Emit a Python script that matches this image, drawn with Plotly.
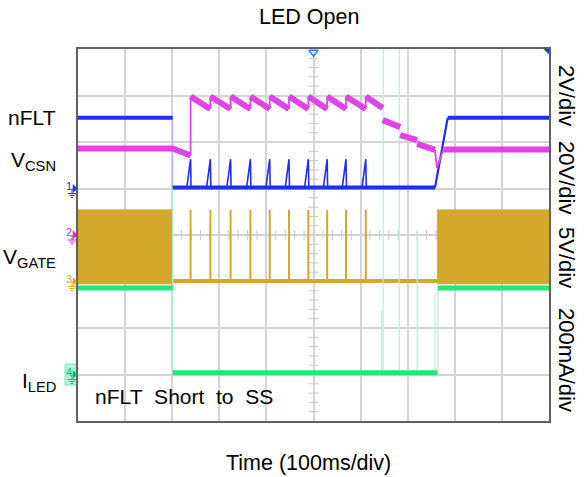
import plotly.graph_objects as go

# ---------------- data (x: ms, 100 ms/div ; y: screen divisions 0..8) ----------------
spike_t = [239, 281, 324, 366, 407, 448, 489, 529, 569, 611]

# nFLT (blue), flat portions
nflt_flat_t = [0, 201, None, 201, 758, None, 785, 1000]
nflt_flat_v = [6.52, 6.52, None, 5.02, 5.02, None, 6.52, 6.52]
# nFLT spikes (ramp start, peak, drop)
nflt_spk_rise = [231, 273, 316, 358, 399, 440, 481, 521, 561, 603]
nflt_spk_peak = [5.63, 5.63, 5.63, 5.63, 5.63, 5.63, 5.63, 5.63, 5.63, 5.63]
nflt_low = 5.02
# nFLT recovery ramp
nflt_ramp_t = [758, 785]
nflt_ramp_v = [5.02, 6.52]

# VCSN (magenta): thick segments
vcsn_t = [0, 201, 239, None,
          239, 281, None, 281, 324, None, 324, 366, None, 366, 407, None, 407, 448, None,
          448, 489, None, 489, 529, None, 529, 569, None, 569, 611, None, 611, 647, None,
          647, 684, None, 684, 720, None, 720, 758, None, 776, 1000]
vcsn_v = [5.86, 5.86, 5.71, None,
          6.98, 6.71, None, 6.98, 6.71, None, 6.98, 6.71, None, 6.98, 6.71, None, 6.98, 6.71, None,
          6.98, 6.71, None, 6.98, 6.71, None, 6.98, 6.71, None, 6.98, 6.71, None, 6.98, 6.73, None,
          6.47, 6.32, None, 6.15, 6.04, None, 5.96, 5.83, None, 5.84, 5.84]
# VCSN thin edges (jumps and dip)
vcsn_edge_t = [239, 239, None, 281, 281, None, 324, 324, None, 366, 366, None, 407, 407, None,
               448, 448, None, 489, 489, None, 529, 529, None, 569, 569, None, 611, 611, None,
               758, 762, 776]
vcsn_edge_v = [5.71, 6.98, None, 6.71, 6.98, None, 6.71, 6.98, None, 6.71, 6.98, None, 6.71, 6.98, None,
               6.71, 6.98, None, 6.71, 6.98, None, 6.71, 6.98, None, 6.71, 6.98, None, 6.71, 6.98, None,
               5.83, 5.44, 5.84]

# VGATE (gold)
vgate_hi = 4.54
vgate_lo = 2.95
vgate_band1_t = [0, 201, 201, 0, 0]
vgate_band2_t = [763, 1000, 1000, 763, 763]
vgate_base_t = [201, 763]
vgate_base_v = [3.01, 3.01]

# ILED (green)
iled_t = [0, 201, None, 201, 763, None, 764, 1000]
iled_v = [2.86, 2.86, None, 1.04, 1.04, None, 2.86, 2.86]
# thin glitch lines of ILED
iled_glitch_t = [201, 645, 648, 682, 720, 758, 764]
iled_glitch_top = [5.46, 2.37, 8.0, 8.0, 4.06, 2.75, 2.86]
iled_glitch_bot = [1.04, 1.04, 1.04, 1.04, 1.04, 1.04, 1.04]

# channel ground levels (divisions) and labels
gnd_y = [5.0, 4.0, 3.0, 1.0]
gnd_lbl = ["1", "2", "3", "4"]

left_labels = ["nFLT", "V<sub>CSN</sub>", "V<sub>GATE</sub>", "I<sub>LED</sub>"]
left_label_y = [6.52, 5.6, 3.5, 0.84]
right_labels = ["2V/div", "20V/div", "5V/div", "200mA/div"]
right_label_py = [95, 177, 257, 360]

BLUE = "#1f2ff0"
PINK = "#e044e6"
GOLD = "#d4a82c"
GREEN = "#22e678"
LGREEN = "#b4f2d0"
FONT = "Liberation Sans"

# plot frame in pixels
L, R, T, B = 78, 549, 49, 421
W, H = R - L, B - T


def px(x):
    return (x - L) / W


def py(y):
    return (B - y) / H


fig = go.Figure()

# ----- center-axis minor ticks (behind the traces) -----
ty = [i * 0.2 for i in range(1, 40) if i % 5 != 0]
tx = [i * 20 for i in range(1, 50) if i % 5 != 0]
fig.add_trace(go.Scatter(x=[500] * len(ty), y=ty, mode="markers",
                         marker=dict(symbol="line-ew", size=7, line=dict(color="#c8c8c8", width=1)),
                         hoverinfo="skip"))
fig.add_trace(go.Scatter(x=tx, y=[4] * len(tx), mode="markers",
                         marker=dict(symbol="line-ns", size=7, line=dict(color="#c8c8c8", width=1)),
                         hoverinfo="skip"))

# ----- VGATE band + base + spikes -----
for bt in (vgate_band1_t, vgate_band2_t):
    fig.add_trace(go.Scatter(x=bt, y=[vgate_lo, vgate_lo, vgate_hi, vgate_hi, vgate_lo],
                             fill="toself", fillcolor=GOLD, mode="lines",
                             line=dict(color=GOLD, width=1), hoverinfo="skip"))
fig.add_trace(go.Scatter(x=vgate_base_t, y=vgate_base_v, mode="lines",
                         line=dict(color=GOLD, width=4), hoverinfo="skip"))
gx, gy = [], []
for t in spike_t:
    gx += [t, t, None]
    gy += [vgate_base_v[0], vgate_hi, None]
fig.add_trace(go.Scatter(x=gx, y=gy, mode="lines", line=dict(color=GOLD, width=2), hoverinfo="skip"))

# ----- ILED -----
lx, ly = [], []
for t, a, b in zip(iled_glitch_t, iled_glitch_bot, iled_glitch_top):
    lx += [t, t, None]
    ly += [a, b, None]
fig.add_trace(go.Scatter(x=lx, y=ly, mode="lines", line=dict(color=LGREEN, width=1.2), hoverinfo="skip"))
fig.add_trace(go.Scatter(x=iled_t, y=iled_v, mode="lines", line=dict(color=GREEN, width=5), hoverinfo="skip"))

# ----- nFLT -----
fig.add_trace(go.Scatter(x=[201, 201], y=[5.02, 6.52], mode="lines",
                         line=dict(color="#b0b8f8", width=1.2), hoverinfo="skip"))
bx, by = [], []
for r, t, p in zip(nflt_spk_rise, spike_t, nflt_spk_peak):
    bx += [r, t, t + 1, None]
    by += [nflt_low, p, nflt_low, None]
fig.add_trace(go.Scatter(x=bx, y=by, mode="lines", line=dict(color=BLUE, width=1.6), hoverinfo="skip"))
fig.add_trace(go.Scatter(x=nflt_ramp_t, y=nflt_ramp_v, mode="lines", line=dict(color=BLUE, width=2.2), hoverinfo="skip"))
fig.add_trace(go.Scatter(x=nflt_flat_t, y=nflt_flat_v, mode="lines", line=dict(color=BLUE, width=4), hoverinfo="skip"))

# ----- VCSN -----
fig.add_trace(go.Scatter(x=vcsn_edge_t, y=vcsn_edge_v, mode="lines", line=dict(color=PINK, width=1.8), hoverinfo="skip"))
fig.add_trace(go.Scatter(x=vcsn_t, y=vcsn_v, mode="lines", line=dict(color=PINK, width=6), hoverinfo="skip"))

# ----- scope markers -----
fig.add_trace(go.Scatter(x=[500], y=[7.93], mode="markers", cliponaxis=False,
                         marker=dict(symbol="triangle-down-open", size=8, color="#3a7bff",
                                     line=dict(color="#3a7bff", width=1.5)),
                         hoverinfo="skip"))
fig.add_trace(go.Scatter(x=[997], y=[7.96], mode="markers", cliponaxis=False,
                         marker=dict(symbol="triangle-ne", size=7, color=BLUE), hoverinfo="skip"))

gnd_c = [BLUE, "#e020e0", GOLD, "#18b868"]
shapes = []
ann = []
for i, (yv, c, lbl) in enumerate(zip(gnd_y, gnd_c, gnd_lbl)):
    yp = B - yv * H / 8.0  # pixel y of ground level
    path = "M {} {} L {} {} L {} {} Z".format(px(73), py(yp - 4), px(77), py(yp), px(73), py(yp + 4))
    shapes.append(dict(type="path", xref="paper", yref="paper", path=path,
                       fillcolor=c, line=dict(color=c, width=0.5)))
    stem = "M {} {} L {} {} M {} {} L {} {} M {} {} L {} {} M {} {} L {} {}".format(
        px(72), py(yp), px(72), py(yp + 5),
        px(68), py(yp + 5), px(76), py(yp + 5),
        px(69.5), py(yp + 7), px(74.5), py(yp + 7),
        px(71), py(yp + 9), px(73), py(yp + 9))
    shapes.append(dict(type="path", xref="paper", yref="paper", path=stem,
                       line=dict(color=c, width=1)))
    ann.append(dict(x=px(69), y=py(yp - 3), xref="paper", yref="paper", text=lbl, showarrow=False,
                    xanchor="center", yanchor="middle",
                    font=dict(size=11, color=c, family=FONT)))
shapes.append(dict(type="rect", xref="paper", yref="paper", layer="below",
                   x0=px(65), x1=px(77.5), y0=py(385), y1=py(364),
                   fillcolor="#a6f7dc", line=dict(color="#7fe8c0", width=1)))

for txt, yv in zip(left_labels, left_label_y):
    ann.append(dict(x=px(58), y=yv, xref="paper", yref="y", text=txt, showarrow=False,
                    xanchor="right", yanchor="middle", font=dict(size=21, color="black", family=FONT)))

for txt, pyv in zip(right_labels, right_label_py):
    ann.append(dict(x=px(567), y=py(pyv), xref="paper", yref="paper",
                    text=txt, showarrow=False, textangle=90, xanchor="center", yanchor="middle",
                    font=dict(size=22, color="black", family=FONT)))

ann.append(dict(x=px(93), y=py(396), xref="paper", yref="paper",
                text="nFLT\u00a0 Short\u00a0 to\u00a0 SS", showarrow=False, xanchor="left", yanchor="middle",
                font=dict(size=21, color="black", family=FONT)))
ann.append(dict(x=px(309), y=py(17), xref="paper", yref="paper", xanchor="center", yanchor="middle",
                text="LED Open", showarrow=False, font=dict(size=21.5, color="black", family=FONT)))
ann.append(dict(x=px(308), y=py(463), xref="paper", yref="paper", xanchor="center", yanchor="middle",
                text="Time (100ms/div)", showarrow=False, font=dict(size=21.5, color="black", family=FONT)))

fig.update_layout(
    width=584, height=477,
    margin=dict(l=L, r=584 - R, t=T, b=477 - B),
    paper_bgcolor="white", plot_bgcolor="white",
    showlegend=False,
    annotations=ann,
    shapes=shapes,
    xaxis=dict(range=[0, 1000], tickvals=list(range(0, 1001, 100)), showticklabels=False,
               ticks="", showgrid=True, gridcolor="#d4d4d4", gridwidth=1.5, zeroline=False,
               showline=True, linecolor="#606060", linewidth=1.5, mirror=True, fixedrange=True),
    yaxis=dict(range=[0, 8], tickvals=list(range(0, 9)), showticklabels=False,
               ticks="", showgrid=True, gridcolor="#d4d4d4", gridwidth=1.5, zeroline=False,
               showline=True, linecolor="#606060", linewidth=1.5, mirror=True, fixedrange=True),
)

fig.write_html("out.html", config={"displayModeBar": False},
               post_script="document.body.style.margin='0px';")
